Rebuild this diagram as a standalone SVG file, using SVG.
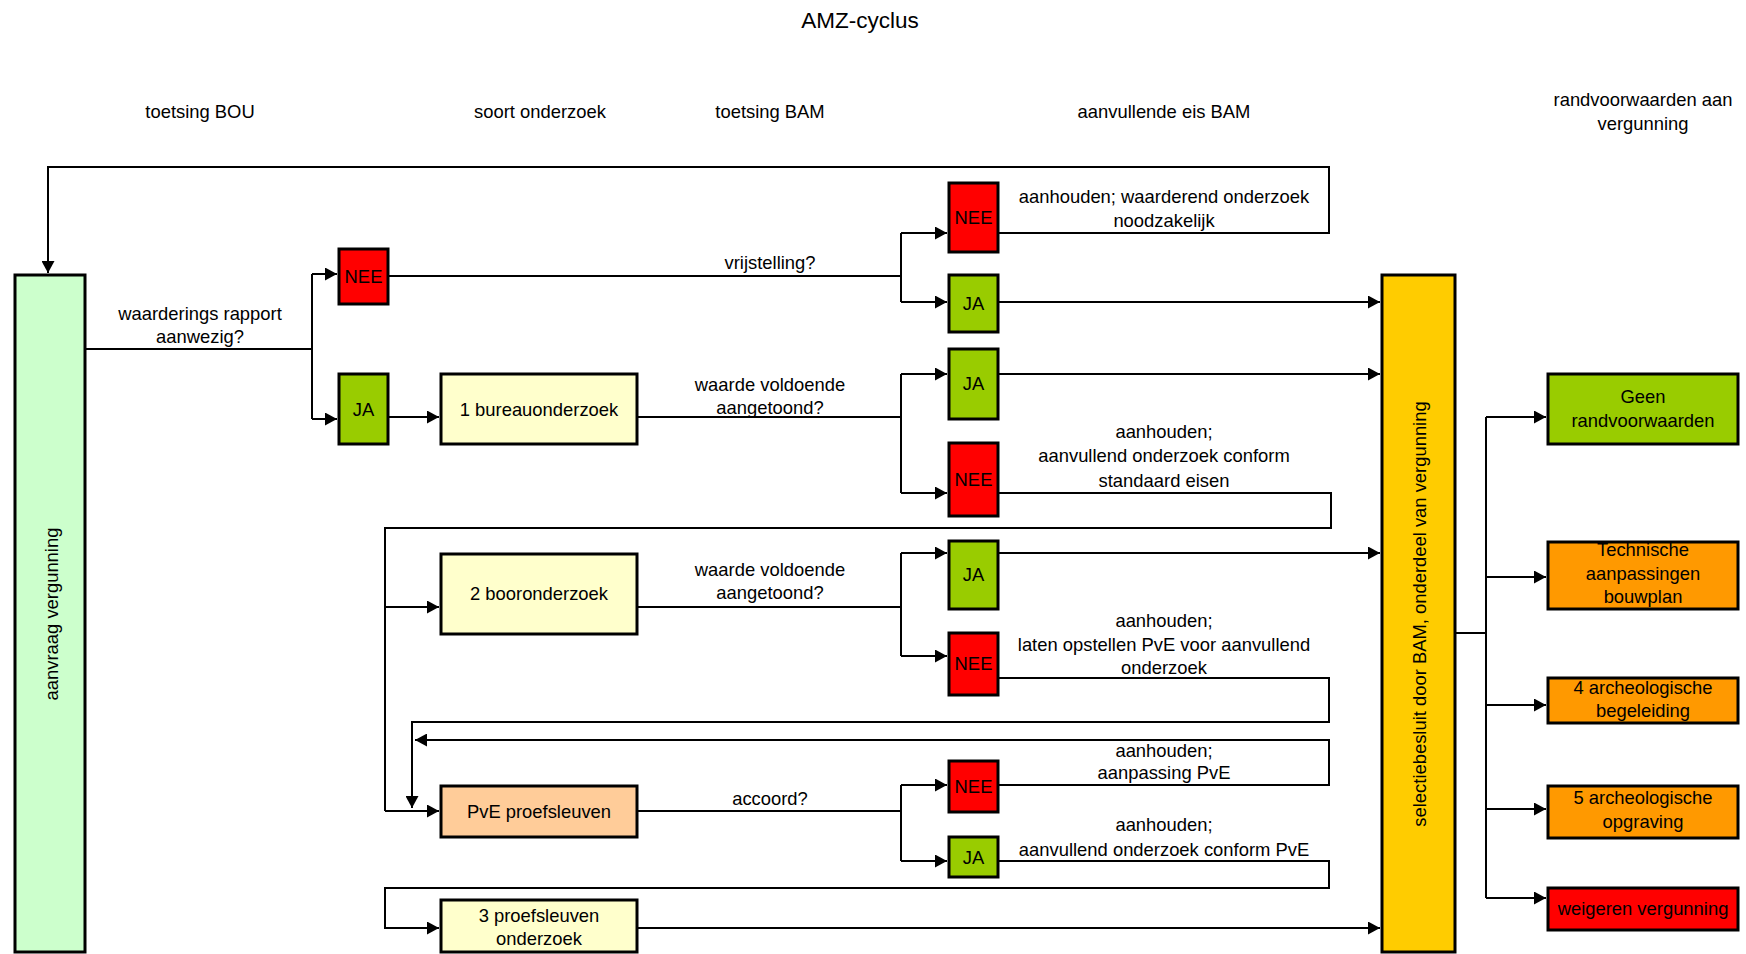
<svg xmlns="http://www.w3.org/2000/svg" width="1746" height="954" viewBox="0 0 1746 954">
<defs>
<marker id="arr" markerWidth="12" markerHeight="13" refX="12" refY="6.5" orient="auto" markerUnits="userSpaceOnUse">
<path d="M0,0 L12,6.5 L0,13 z" fill="#000"/>
</marker>
<style>
text{font-family:"Liberation Sans",Arial,sans-serif;font-size:18.4px;fill:#000;text-anchor:middle}
.box{stroke:#000;stroke-width:3}
.red{fill:#FF0000}
.grn{fill:#99CC00}
.yel{fill:#FFFFCC}
.org{fill:#FF9900}
.pve{fill:#FFCC99}
.lgr{fill:#CCFFCC}
.gold{fill:#FFCC00}
.c{fill:none;stroke:#000;stroke-width:2}
.a{fill:none;stroke:#000;stroke-width:2;marker-end:url(#arr)}
</style>
</defs>
<rect width="1746" height="954" fill="#fff"/>

<g id="labels">
<text x="860" y="28" style="font-size:22.5px">AMZ-cyclus</text>
<text x="200" y="118">toetsing BOU</text>
<text x="540" y="118">soort onderzoek</text>
<text x="770" y="118">toetsing BAM</text>
<text x="1164" y="118">aanvullende eis BAM</text>
<text x="1643" y="106">randvoorwaarden aan</text>
<text x="1643" y="130">vergunning</text>
<text x="200" y="320">waarderings rapport</text>
<text x="200" y="343">aanwezig?</text>
<text x="770" y="269">vrijstelling?</text>
<text x="770" y="391">waarde voldoende</text>
<text x="770" y="414">aangetoond?</text>
<text x="770" y="576">waarde voldoende</text>
<text x="770" y="599">aangetoond?</text>
<text x="770" y="805">accoord?</text>
<text x="1164" y="203">aanhouden; waarderend onderzoek</text>
<text x="1164" y="227">noodzakelijk</text>
<text x="1164" y="438">aanhouden;</text>
<text x="1164" y="462">aanvullend onderzoek conform</text>
<text x="1164" y="487">standaard eisen</text>
<text x="1164" y="627">aanhouden;</text>
<text x="1164" y="651">laten opstellen PvE voor aanvullend</text>
<text x="1164" y="674">onderzoek</text>
<text x="1164" y="757">aanhouden;</text>
<text x="1164" y="779">aanpassing PvE</text>
<text x="1164" y="831">aanhouden;</text>
<text x="1164" y="856">aanvullend onderzoek conform PvE</text>
</g>

<g id="connectors">
<path class="a" d="M998,233 H1329 V167 H48 V273"/>
<path class="c" d="M85,349 H312 M312,274 V419"/>
<path class="a" d="M312,274 H337"/>
<path class="a" d="M312,419 H337"/>
<path class="c" d="M388,276 H901 M901,233 V302"/>
<path class="a" d="M901,233 H947"/>
<path class="a" d="M901,302 H947"/>
<path class="a" d="M388,417 H439"/>
<path class="c" d="M637,417 H901 M901,374 V493"/>
<path class="a" d="M901,374 H947"/>
<path class="a" d="M901,493 H947"/>
<path class="a" d="M998,302 H1380"/>
<path class="a" d="M998,374 H1380"/>
<path class="c" d="M998,493 H1331 V528 H385 V811"/>
<path class="a" d="M385,607 H439"/>
<path class="a" d="M385,811 H439"/>
<path class="c" d="M637,607 H901 M901,553 V656"/>
<path class="a" d="M901,553 H947"/>
<path class="a" d="M901,656 H947"/>
<path class="a" d="M998,553 H1380"/>
<path class="a" d="M998,678 H1329 V722 H412 V808"/>
<path class="a" d="M998,785 H1329 V740 H415"/>
<path class="c" d="M637,811 H901 M901,785 V861"/>
<path class="a" d="M901,785 H947"/>
<path class="a" d="M901,861 H947"/>
<path class="a" d="M998,861 H1329 V888 H385 V928 H439"/>
<path class="a" d="M637,928 H1380"/>
<path class="c" d="M1455,633 H1486 M1486,417 V898"/>
<path class="a" d="M1486,417 H1546"/>
<path class="a" d="M1486,577 H1546"/>
<path class="a" d="M1486,705 H1546"/>
<path class="a" d="M1486,809 H1546"/>
<path class="a" d="M1486,898 H1546"/>
</g>

<g id="aanvraag"><rect class="box lgr" x="15" y="275" width="70" height="677"/><text transform="translate(58,614) rotate(-90)">aanvraag vergunning</text></g>
<g id="nee1"><rect class="box red" x="339" y="249" width="49" height="55"/><text x="363.5" y="283">NEE</text></g>
<g id="ja1"><rect class="box grn" x="339" y="374" width="49" height="70"/><text x="363.5" y="416">JA</text></g>
<g id="bureau"><rect class="box yel" x="441" y="374" width="196" height="70"/><text x="539" y="416">1 bureauonderzoek</text></g>
<g id="booron"><rect class="box yel" x="441" y="554" width="196" height="80"/><text x="539" y="600">2 booronderzoek</text></g>
<g id="pve"><rect class="box pve" x="441" y="786" width="196" height="51"/><text x="539" y="818">PvE proefsleuven</text></g>
<g id="proef3"><rect class="box yel" x="441" y="900" width="196" height="52"/><text x="539" y="922">3 proefsleuven</text><text x="539" y="945">onderzoek</text></g>
<g id="nee2"><rect class="box red" x="949" y="183" width="49" height="69"/><text x="973.5" y="224">NEE</text></g>
<g id="ja2"><rect class="box grn" x="949" y="275" width="49" height="57"/><text x="973.5" y="310">JA</text></g>
<g id="ja3"><rect class="box grn" x="949" y="349" width="49" height="70"/><text x="973.5" y="390">JA</text></g>
<g id="nee3"><rect class="box red" x="949" y="443" width="49" height="73"/><text x="973.5" y="486">NEE</text></g>
<g id="ja4"><rect class="box grn" x="949" y="541" width="49" height="68"/><text x="973.5" y="581">JA</text></g>
<g id="nee4"><rect class="box red" x="949" y="633" width="49" height="62"/><text x="973.5" y="670">NEE</text></g>
<g id="nee5"><rect class="box red" x="949" y="761" width="49" height="51"/><text x="973.5" y="793">NEE</text></g>
<g id="ja5"><rect class="box grn" x="949" y="837" width="49" height="40"/><text x="973.5" y="864">JA</text></g>
<g id="selectie"><rect class="box gold" x="1382" y="275" width="73" height="677"/><text transform="translate(1426,614) rotate(-90)">selectiebesluit door BAM, onderdeel van vergunning</text></g>
<g id="geen"><rect class="box grn" x="1548" y="374" width="190" height="70"/><text x="1643" y="403">Geen</text><text x="1643" y="427">randvoorwaarden</text></g>
<g id="technische"><rect class="box org" x="1548" y="542" width="190" height="67"/><text x="1643" y="556">Technische</text><text x="1643" y="580">aanpassingen</text><text x="1643" y="603">bouwplan</text></g>
<g id="arch4"><rect class="box org" x="1548" y="678" width="190" height="45"/><text x="1643" y="694">4 archeologische</text><text x="1643" y="717">begeleiding</text></g>
<g id="arch5"><rect class="box org" x="1548" y="786" width="190" height="52"/><text x="1643" y="804">5 archeologische</text><text x="1643" y="828">opgraving</text></g>
<g id="weigeren"><rect class="box red" x="1548" y="888" width="190" height="42"/><text x="1643" y="915">weigeren vergunning</text></g>
</svg>
